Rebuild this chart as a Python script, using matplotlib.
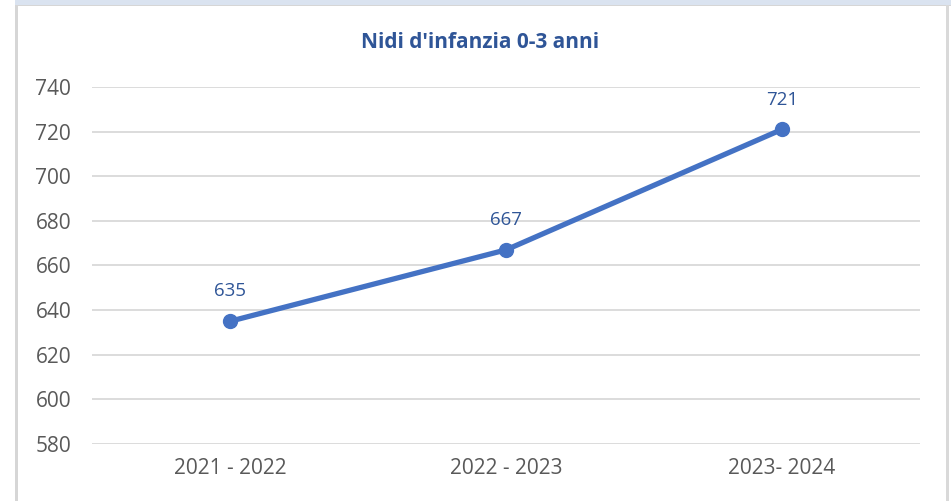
import matplotlib
matplotlib.use("Agg")
import matplotlib.pyplot as plt
from matplotlib.patches import Rectangle

categories = ["2021 - 2022", "2022 - 2023", "2023- 2024"]
values = [635, 667, 721]
y_ticks = [580, 600, 620, 640, 660, 680, 700, 720, 740]
title = "Nidi d'infanzia 0-3 anni"

plt.rcParams["font.family"] = ["Open Sans", "DejaVu Sans"]

W, H = 951, 501
fig = plt.figure(figsize=(W / 100, H / 100), dpi=100)
fig.patch.set_facecolor("white")

# frame decorations: light blue top band and grey borders
fig.patches.append(Rectangle((15 / W, 1 - 5 / H), 1 - 15 / W, 5 / H,
                             transform=fig.transFigure, facecolor="#dae3f0",
                             edgecolor="none", zorder=0))
fig.patches.append(Rectangle((15 / W, 1 - 6 / H), 1 - 15 / W, 1.5 / H,
                             transform=fig.transFigure, facecolor="#d6d6d6",
                             edgecolor="none", zorder=0))
fig.patches.append(Rectangle((15 / W, 0), 2.5 / W, 1 - 5 / H,
                             transform=fig.transFigure, facecolor="#d6d6d6",
                             edgecolor="none", zorder=0))
fig.patches.append(Rectangle((946 / W, 0), 3 / W, 1 - 5 / H,
                             transform=fig.transFigure, facecolor="#d9d9d9",
                             edgecolor="none", zorder=0))

ax = fig.add_axes([92 / W, 1 - 444 / H, (920 - 92) / W, (444 - 87) / H])
x = list(range(len(categories)))
ax.plot(x, values, color="#4472c4", lw=3.8, marker="o", markersize=10,
        solid_capstyle="round", zorder=3, clip_on=False)
for xi, v in zip(x, values):
    ax.annotate(str(v), (xi, v), xytext=(0, 15), textcoords="offset points",
                ha="center", va="bottom", fontsize=13.5, color="#2f5597")

ax.set_xlim(-0.5, 2.5)
ax.set_ylim(580, 740)
ax.set_yticks(y_ticks)
ax.set_xticks(x)
ax.set_xticklabels(categories)
ax.grid(axis="y", color="#d9d9d9", lw=1.3)
ax.set_axisbelow(True)
for s in ax.spines.values():
    s.set_visible(False)
ax.tick_params(axis="both", length=0, labelsize=15, labelcolor="#595959")
ax.tick_params(axis="y", pad=15)
ax.tick_params(axis="x", pad=10)

fig.text(480 / W, 1 - 42 / H, title, ha="center", va="center",
         fontsize=15, fontweight="bold", color="#2f5597")

fig.savefig("out.png", dpi=100)
